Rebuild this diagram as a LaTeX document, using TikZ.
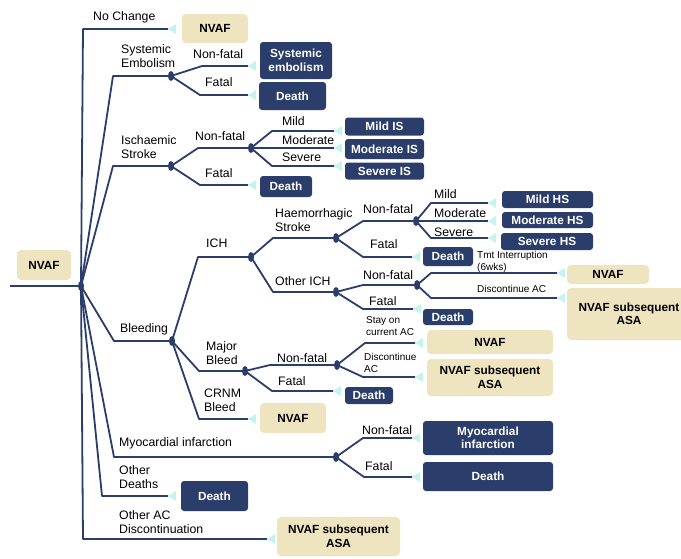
\documentclass[tikz,border=0pt]{standalone}
\usepackage{fontspec}
\setmainfont{Liberation Sans}
\usetikzlibrary{shapes.geometric}
\definecolor{navy}{HTML}{2B3D6B}
\definecolor{beige}{HTML}{EEE4C0}
\definecolor{tipc}{HTML}{C4F4EC}
\newcommand\tipat[1]{\fill[tipc] (#1) -- ++(8,-5) -- ++(0,10) -- cycle;}
\begin{document}
\begin{tikzpicture}[x=1pt,y=-1pt,
  br/.style={draw=navy, line width=1.8pt, line join=round},
  dot/.style={ellipse, fill=navy, inner sep=0pt, minimum width=6pt, minimum height=10pt},
  lbl/.style={font=\fontsize{12.3}{14}\selectfont, anchor=west, inner sep=0pt, align=left},
  sml/.style={font=\fontsize{10}{12}\selectfont, anchor=west, inner sep=0pt, align=left},
  nbox/.style={fill=navy, text=white, font=\bfseries\fontsize{11.8}{13.5}\selectfont, rounded corners=3pt, inner sep=0pt, align=center},
  bbox/.style={fill=beige, text=black, font=\bfseries\fontsize{11.8}{13.5}\selectfont, rounded corners=4pt, inner sep=0pt, align=center}]
\useasboundingbox (0,0) rectangle (681,558);
\clip (0,0) rectangle (681,558);

% ---------- boxes ----------
\node[bbox, minimum width=54pt, minimum height=30pt] (root) at (44,265) {NVAF};
\node[bbox, minimum width=66pt, minimum height=29pt] (bNC) at (215,28.5) {NVAF};
\node[nbox, minimum width=72pt, minimum height=37pt] (bSE) at (296,60.5) {Systemic\\embolism};
\node[nbox, minimum width=67pt, minimum height=28pt] (bSED) at (292.5,96) {Death};
\node[nbox, minimum width=79pt, minimum height=18pt] (bMIS) at (384.5,126.5) {Mild IS};
\node[nbox, minimum width=79pt, minimum height=20pt] (bMoIS) at (384.5,149) {Moderate IS};
\node[nbox, minimum width=79pt, minimum height=17pt] (bSIS) at (384.5,171) {Severe IS};
\node[nbox, minimum width=52pt, minimum height=21pt] (bISD) at (286,186.5) {Death};
\node[nbox, minimum width=91pt, minimum height=17pt] (bMHS) at (547.5,199.5) {Mild HS};
\node[nbox, minimum width=91pt, minimum height=16pt] (bMoHS) at (547.5,220) {Moderate HS};
\node[nbox, minimum width=92pt, minimum height=17pt] (bSHS) at (547,241.5) {Severe HS};
\node[nbox, minimum width=50pt, minimum height=19pt] (bHSD) at (448,256.5) {Death};
\node[bbox, minimum width=82pt, minimum height=19pt] (bOINV) at (608,274.5) {NVAF};
\node[bbox, minimum width=124pt, minimum height=52pt] (bOIASA) at (629,314) {NVAF subsequent\\ASA};
\node[nbox, minimum width=50pt, minimum height=16pt] (bOID) at (448,317) {Death};
\node[bbox, minimum width=126pt, minimum height=24pt] (bMBNV) at (490,342) {NVAF};
\node[bbox, minimum width=126pt, minimum height=37pt] (bMBASA) at (490,377.5) {NVAF subsequent\\ASA};
\node[nbox, minimum width=48pt, minimum height=17pt] (bMBD) at (369,395.5) {Death};
\node[bbox, minimum width=66pt, minimum height=30pt] (bCR) at (293,418) {NVAF};
\node[nbox, minimum width=130pt, minimum height=34pt] (bMI) at (488,438) {Myocardial\\infarction};
\node[nbox, minimum width=130pt, minimum height=29pt] (bMID) at (488,476.5) {Death};
\node[nbox, minimum width=67pt, minimum height=30pt] (bOD) at (214.5,496) {Death};
\node[bbox, minimum width=123pt, minimum height=39pt] (bOAC) at (338.5,536.5) {NVAF subsequent\\ASA};

% ---------- chance nodes ----------
\node[dot] (r0) at (81,286) {};
\node[dot] (dSE) at (171,76) {};
\node[dot] (dIS) at (171,166) {};
\node[dot] (dISN) at (251,148) {};
\node[dot] (dBL) at (172,341) {};
\node[dot] (dICH) at (251,257) {};
\node[dot] (dHS) at (336,238) {};
\node[dot] (dHSN) at (416,221) {};
\node[dot] (dOI) at (336,292) {};
\node[dot] (dOIN) at (417,285) {};
\node[dot] (dMB) at (245,371) {};
\node[dot] (dMBN) at (337,365) {};
\node[dot] (dMI) at (336,457) {};

% ---------- free ends ----------
\coordinate (s0) at (10,286);
\coordinate (tNC) at (168,29);
\coordinate (tSE1) at (248,66);
\coordinate (tSE2) at (248,95);
\coordinate (tIS1) at (334,131);
\coordinate (tIS2) at (334,148);
\coordinate (tIS3) at (334,166);
\coordinate (tISF) at (248,185);
\coordinate (tHS1) at (488,203);
\coordinate (tHS2) at (488,221);
\coordinate (tHS3) at (488,238);
\coordinate (tHSF) at (412,257);
\coordinate (tOI1) at (557,273);
\coordinate (tOI2) at (557,298);
\coordinate (tOIF) at (413,309);
\coordinate (tMB1) at (415,343);
\coordinate (tMB2) at (415,377);
\coordinate (tMBF) at (333,391);
\coordinate (tCR) at (248,419);
\coordinate (tMI1) at (412,438);
\coordinate (tMI2) at (412,477);
\coordinate (tOD) at (168,496);
\coordinate (tOAC) at (267,539);

% ---------- connectors ----------
\draw[br] (s0) -- (r0.center);
\draw[br] (r0.center) -- (83,29) -- (tNC);
\draw[br] (r0.center) -- (113,76) -- (dSE.center);
\draw[br] (r0.center) -- (113,166) -- (dIS.center);
\draw[br] (r0.center) -- (114,341) -- (dBL.center);
\draw[br] (r0.center) -- (114,457) -- (dMI.center);
\draw[br] (r0.center) -- (102,496) -- (tOD);
\draw[br] (r0.center) -- (83,539) -- (tOAC);

\draw[br] (dSE.center) -- (202,66) -- (tSE1);
\draw[br] (dSE.center) -- (200,95) -- (tSE2);

\draw[br] (dIS.center) -- (198,148) -- (dISN.center);
\draw[br] (dIS.center) -- (200,185) -- (tISF);
\draw[br] (dISN.center) -- (272,131) -- (tIS1);
\draw[br] (dISN.center) -- (tIS2);
\draw[br] (dISN.center) -- (272,166) -- (tIS3);

\draw[br] (dBL.center) -- (198,257) -- (dICH.center);
\draw[br] (dBL.center) -- (199,371) -- (dMB.center);
\draw[br] (dBL.center) -- (199,419) -- (tCR);

\draw[br] (dICH.center) -- (273,238) -- (dHS.center);
\draw[br] (dICH.center) -- (273,292) -- (dOI.center);

\draw[br] (dHS.center) -- (363,221) -- (dHSN.center);
\draw[br] (dHS.center) -- (363,257) -- (tHSF);
\draw[br] (dHSN.center) -- (431,203) -- (tHS1);
\draw[br] (dHSN.center) -- (tHS2);
\draw[br] (dHSN.center) -- (431,238) -- (tHS3);

\draw[br] (dOI.center) -- (363,285) -- (dOIN.center);
\draw[br] (dOI.center) -- (363,309) -- (tOIF);
\draw[br] (dOIN.center) -- (431,273) -- (tOI1);
\draw[br] (dOIN.center) -- (431,298) -- (tOI2);

\draw[br] (dMB.center) -- (270,365) -- (dMBN.center);
\draw[br] (dMB.center) -- (272,391) -- (tMBF);
\draw[br] (dMBN.center) -- (365,343) -- (tMB1);
\draw[br] (dMBN.center) -- (363,377) -- (tMB2);

\draw[br] (dMI.center) -- (363,438) -- (tMI1);
\draw[br] (dMI.center) -- (364,477) -- (tMI2);

% ---------- terminal markers ----------
\foreach \t in {tNC,tSE1,tSE2,tIS1,tIS2,tIS3,tISF,tHS1,tHS2,tHS3,tHSF,tOI1,tOI2,tOIF,tMB1,tMB2,tMBF,tCR,tMI1,tMI2,tOD,tOAC}{\tipat{\t}}

% ---------- labels ----------
\node[lbl] (lNC) at (93,17) {No Change};
\node[lbl] (lSE) at (121,56) {Systemic\\Embolism};
\node[lbl] (lSEN) at (193,54) {Non-fatal};
\node[lbl] (lSEF) at (205,82) {Fatal};
\node[lbl] (lIS) at (121,147) {Ischaemic\\Stroke};
\node[lbl] (lISN) at (195,136) {Non-fatal};
\node[lbl] (lISF) at (205,173) {Fatal};
\node[lbl] (lIS1) at (282,121) {Mild};
\node[lbl] (lIS2) at (282,140) {Moderate};
\node[lbl] (lIS3) at (282,157) {Severe};
\node[lbl] (lICH) at (206,243) {ICH};
\node[lbl] (lHS) at (275,220.5) {Haemorrhagic\\Stroke};
\node[lbl] (lOI) at (275,281) {Other ICH};
\node[lbl] (lBL) at (120,329) {Bleeding};
\node[lbl] (lMB) at (206,353.5) {Major\\Bleed};
\node[lbl] (lCR) at (204,400) {CRNM\\Bleed};
\node[lbl] (lHSN) at (363,209) {Non-fatal};
\node[lbl] (lHSF) at (370,244) {Fatal};
\node[lbl] (lHS1) at (434,194) {Mild};
\node[lbl] (lHS2) at (434,213) {Moderate};
\node[lbl] (lHS3) at (434,232) {Severe};
\node[lbl] (lOIN) at (363,275) {Non-fatal};
\node[lbl] (lOIF) at (369,301) {Fatal};
\node[sml] (lTmt) at (477,262) {Tmt Interruption\\(6wks)};
\node[sml] (lDis1) at (477,289) {Discontinue AC};
\node[sml] (lStay) at (366,326.5) {Stay on\\current AC};
\node[sml] (lDis2) at (364,363) {Discontinue\\AC};
\node[lbl] (lMBN) at (277,358) {Non-fatal};
\node[lbl] (lMBF) at (278,381) {Fatal};
\node[lbl] (lMI) at (119,443) {Myocardial infarction};
\node[lbl] (lOD) at (119,477) {Other\\Deaths};
\node[lbl] (lOAC) at (119,522) {Other AC\\Discontinuation};
\node[lbl] (lMIN) at (362,430) {Non-fatal};
\node[lbl] (lMIF) at (365,466) {Fatal};
\end{tikzpicture}
\end{document}
